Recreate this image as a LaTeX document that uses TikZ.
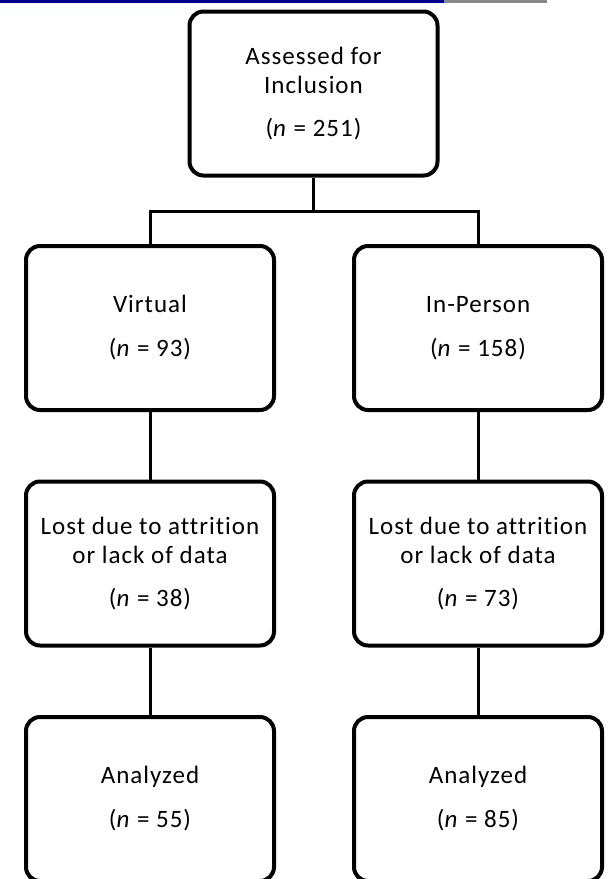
\documentclass[tikz,border=0pt]{standalone}
\usepackage{fontspec}
\setmainfont{Carlito}[Ligatures=NoCommon,LetterSpace=4]
\usepackage{xcolor}
\usepackage{tikz}
\definecolor{barblue}{RGB}{0,0,140}
\definecolor{bargrey}{RGB}{136,136,136}
\tikzset{
  stagebox/.style={draw, line width=4pt, rounded corners=14pt,
    minimum width=248pt, minimum height=164pt, align=center,
    font=\fontsize{25}{29}\selectfont},
  link/.style={line width=3pt}
}
\begin{document}
\begin{tikzpicture}[x=1pt,y=-1pt]
\useasboundingbox (0,0) rectangle (611,879);
\fill[barblue] (0,0) rectangle (444,3);
\fill[bargrey] (444,0) rectangle (547,3);
\node[stagebox] (assess)   at (313.5,93.5) {Assessed for\\Inclusion\\[14pt](\textit{n} = 251)};
\node[stagebox] (virtual)  at (150,328)   {Virtual\\[15pt](\textit{n} = 93)};
\node[stagebox] (inperson) at (478,328)   {In-Person\\[15pt](\textit{n} = 158)};
\node[stagebox] (lostv)    at (150,563.5) {Lost due to attrition\\or lack of data\\[14pt](\textit{n} = 38)};
\node[stagebox] (lostp)    at (478,563.5) {Lost due to attrition\\or lack of data\\[14pt](\textit{n} = 73)};
\node[stagebox] (anav)     at (150,799)   {Analyzed\\[15pt](\textit{n} = 55)};
\node[stagebox] (anap)     at (478,799)   {Analyzed\\[15pt](\textit{n} = 85)};
\path coordinate (split) at (313.5,211.5);
\draw[link] (assess.south) -- (split);
\draw[link] (virtual.north) |- (split) -| (inperson.north);
\draw[link] (virtual) -- (lostv);
\draw[link] (inperson) -- (lostp);
\draw[link] (lostv) -- (anav);
\draw[link] (lostp) -- (anap);
\end{tikzpicture}
\end{document}
